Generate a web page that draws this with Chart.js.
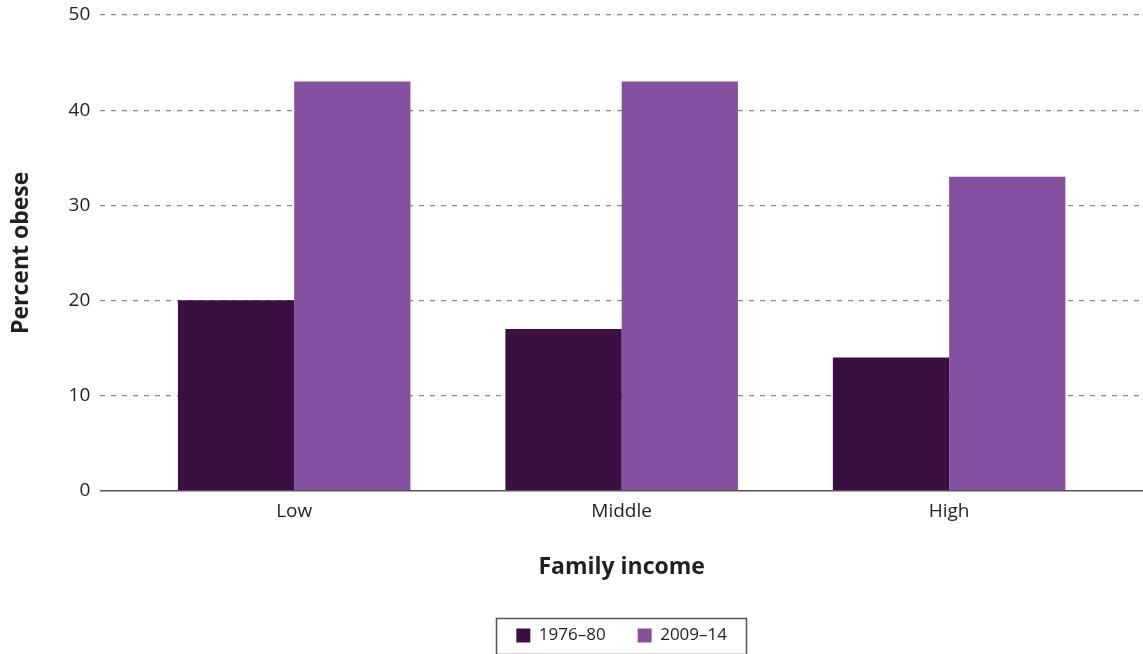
<!DOCTYPE html>
<html>
<head>
<meta charset="utf-8">
<script src="https://cdn.jsdelivr.net/npm/chart.js@4/dist/chart.umd.min.js"></script>
<style>
  html, body { margin: 0; padding: 0; background: #fff; }
  #wrap { width: 1143px; height: 654px; }
</style>
</head>
<body>
<div id="wrap"><canvas id="c" width="1143" height="654"></canvas></div>
<script>
const categories = ["Low", "Middle", "High"];
const series1976 = [20, 17, 14];
const series2009 = [43, 43, 33];
const seriesNames = ["1976\u201380", "2009\u201314"];
const yTicks = [0, 10, 20, 30, 40, 50];

const FONT = "'Open Sans', 'Liberation Sans', sans-serif";
const TEXT = "#231f20";

const legendBorder = {
  id: 'legendBorder',
  afterDraw(chart) {
    const lg = chart.legend;
    if (!lg || !lg.legendHitBoxes || !lg.legendHitBoxes.length) return;
    const hb = lg.legendHitBoxes;
    const first = hb[0], last = hb[hb.length - 1];
    const left = first.left - 20;
    const right = last.left + last.width + 19;
    const cy = first.top + first.height / 2;
    const top = cy - 18;
    const bottom = Math.min(cy + 18, chart.height - 1);
    const ctx = chart.ctx;
    ctx.save();
    ctx.strokeStyle = '#555';
    ctx.lineWidth = 1.5;
    ctx.strokeRect(Math.round(left) + 0.5, Math.round(top) + 0.5, Math.round(right - left), Math.round(bottom - top));
    ctx.restore();
  }
};

new Chart(document.getElementById('c'), {
  type: 'bar',
  data: {
    datasets: [
      { label: seriesNames[0], data: series1976.map((v, i) => ({ x: i, y: v })), backgroundColor: '#3a0f42', borderWidth: 0 },
      { label: seriesNames[1], data: series2009.map((v, i) => ({ x: i, y: v })), backgroundColor: '#8650a0', borderWidth: 0 }
    ]
  },
  options: {
    responsive: false,
    animation: false,
    devicePixelRatio: 1,
    layout: { padding: { left: 8, right: 0, top: 0, bottom: 0 } },
    datasets: { bar: { categoryPercentage: 0.71, barPercentage: 1 } },
    plugins: {
      tooltip: { enabled: false },
      legend: {
        position: 'bottom',
        fullSize: false,
        labels: {
          boxWidth: 14, boxHeight: 14, padding: 32,
          color: TEXT,
          font: { family: FONT, size: 17 }
        }
      }
    },
    scales: {
      x: {
        type: 'linear',
        min: -0.592,
        max: 2.592,
        offset: false,
        afterBuildTicks: (axis) => { axis.ticks = categories.map((c, i) => ({ value: i })); },
        ticks: {
          color: TEXT,
          font: { family: FONT, size: 19 },
          padding: 10,
          callback: (v) => categories[v] !== undefined ? categories[v] : ''
        },
        grid: { display: false, drawTicks: false },
        border: { display: true, color: '#555', width: 1.5 },
        title: {
          display: true, text: 'Family income', color: TEXT,
          font: { family: FONT, size: 23, weight: 'bold' },
          padding: { top: 20, bottom: 14 }
        }
      },
      y: {
        min: 0, max: 50,
        afterBuildTicks: (axis) => { axis.ticks = yTicks.map(v => ({ value: v })); },
        afterFit: (axis) => { axis.paddingTop = 15; },
        ticks: { color: TEXT, font: { family: FONT, size: 19 }, padding: 10 },
        grid: {
          drawTicks: false,
          color: (ctx) => ctx.tick && ctx.tick.value === 0 ? 'rgba(0,0,0,0)' : '#888',
          lineWidth: 1.2
        },
        border: { display: false, dash: [5, 6] },
        title: {
          display: true, text: 'Percent obese', color: TEXT,
          font: { family: FONT, size: 23, weight: 'bold' },
          padding: { top: 0, bottom: 23 }
        }
      }
    }
  },
  plugins: [legendBorder]
});
</script>
</body>
</html>
